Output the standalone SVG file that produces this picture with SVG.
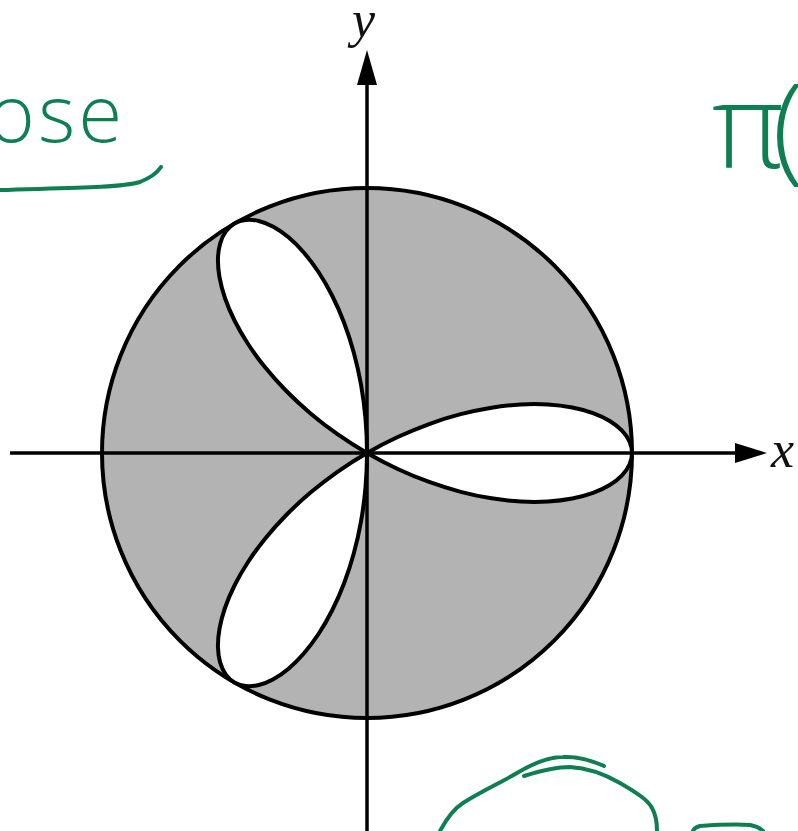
<svg xmlns="http://www.w3.org/2000/svg" width="798" height="831" viewBox="0 0 798 831">
<style>
.edge{stroke:#000;stroke-width:4;fill:none}
.ax{stroke:#000;stroke-width:3.5;fill:none}
.lbl{font-family:"Liberation Serif",serif;font-style:italic;font-size:52px;fill:#111}
.ink{stroke:#0e7f52;stroke-width:4;fill:none;stroke-linecap:round;stroke-linejoin:round}
.inkt{font-family:"Open Sans","Liberation Sans",sans-serif;font-weight:300;fill:#0e7f52}
</style>
<defs>
<path id="petal" d="M0,0 C10.3,-5.950 20.33,-11.14 30.69,-15.97 C41.05,-20.8 51.66,-25.18 62.16,-28.99 C72.66,-32.8 83.3,-36.09 93.69,-38.81 C104.08,-41.53 114.48,-43.7 124.51,-45.32 C134.54,-46.94 144.44,-47.98 153.86,-48.51 C163.28,-49.04 172.43,-49 181,-48.5 C189.57,-48 197.76,-46.94 205.26,-45.5 C212.76,-44.06 219.76,-42.11 226.01,-39.85 C232.26,-37.59 237.9,-34.88 242.73,-31.95 C247.56,-29.02 251.7,-25.72 254.99,-22.3 C258.28,-18.88 260.81,-15.18 262.48,-11.46 C264.15,-7.74 265,-3.82 265,0 C265,3.82 264.15,7.74 262.48,11.46 C260.81,15.18 258.28,18.88 254.99,22.3 C251.7,25.72 247.56,29.02 242.73,31.95 C237.9,34.88 232.26,37.59 226.01,39.85 C219.76,42.11 212.76,44.06 205.26,45.5 C197.76,46.94 189.57,48 181,48.5 C172.43,49 163.28,49.04 153.86,48.51 C144.44,47.98 134.54,46.94 124.51,45.32 C114.48,43.7 104.08,41.53 93.69,38.81 C83.3,36.09 72.66,32.8 62.16,28.99 C51.66,25.18 41.05,20.8 30.69,15.97 C20.33,11.14 10.3,5.95 0,0 Z"/>
</defs>
<rect width="798" height="831" fill="#fff"/>
<g id="disk">
<circle cx="367" cy="453" r="265" fill="#b3b3b3" stroke="#000" stroke-width="4"/>
</g>
<g id="rose" transform="translate(367,453)">
<use href="#petal" fill="#fff" stroke="#000" stroke-width="4"/>
<use href="#petal" transform="rotate(-120)" fill="#fff" stroke="#000" stroke-width="4"/>
<use href="#petal" transform="rotate(120)" fill="#fff" stroke="#000" stroke-width="4"/>
</g>
<g id="axes">
<line class="ax" x1="10" y1="453" x2="740" y2="453"/>
<polygon points="767,453 735,443 735,463" fill="#000"/>
<line class="ax" x1="367" y1="831" x2="367" y2="80"/>
<polygon points="367,50 357,85 377,85" fill="#000"/>
<text class="lbl" x="771" y="467">x</text>
<text class="lbl" x="352" y="37">y</text>
</g>
<g id="annotations">
<text class="inkt" x="-12" y="142" font-size="80" letter-spacing="3">ose</text>
<path class="ink" d="M0,190 C60,188 120,188 140,182 C150,178 157,173 161,167"/>
<text class="inkt" x="712" y="168" font-size="118" letter-spacing="-12">π(</text>
<path class="ink" d="M440,831 C448,816 455,808 463,803 C480,792 500,783 517,773 C532,764 548,757 563,757 C580,756 595,762 604,766"/>
<path class="ink" d="M524,776 C540,771 555,767 570,767 C590,768 606,775 620,783 C637,793 648,800 652,808 C656,815 657,823 657,831"/>
<path class="ink" d="M693,831 C694,828 696,827 700,826 C715,825 735,824 750,825 C756,826 760,828 763,831"/>
</g>
</svg>
